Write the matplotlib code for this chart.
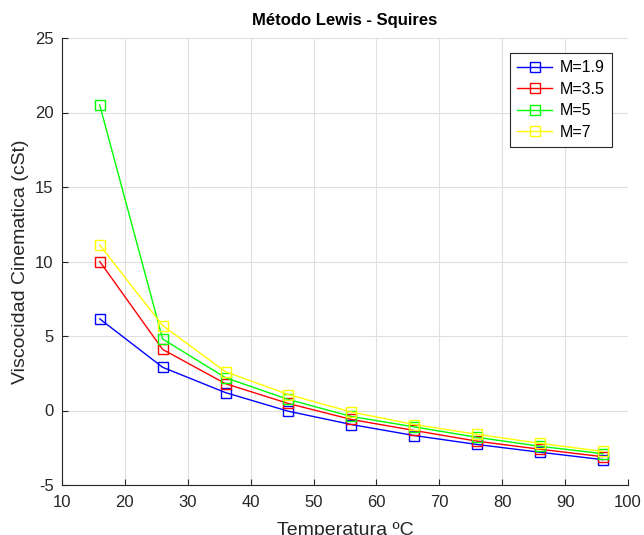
import numpy as np
import matplotlib
matplotlib.use("Agg")
from matplotlib import pyplot as plt

plt.rcParams['font.family'] = ['Liberation Sans', 'DejaVu Sans']
plt.rcParams['axes.unicode_minus'] = False

# temperaturas (ºC)
temp = [16, 26, 36, 46, 56, 66, 76, 86, 96]

# viscosidad para cada M
m19 = [6.15, 2.9, 1.2, -0.05, -0.94, -1.68, -2.28, -2.8, -3.3]
m35 = [10.0, 4.1, 1.8, 0.47, -0.6, -1.34, -2.06, -2.6, -3.1]
m5 = [20.5, 4.8, 2.2, 0.74, -0.4, -1.1, -1.8, -2.4, -2.9]
m7 = [11.1, 5.7, 2.6, 1.07, -0.1, -0.94, -1.6, -2.2, -2.75]

series = [("M=1.9", m19, "#0000ff"),
          ("M=3.5", m35, "#ff0000"),
          ("M=5", m5, "#00ff00"),
          ("M=7", m7, "#ffff00")]

fig = plt.figure(figsize=(6.44, 5.35), dpi=100)
ax = fig.add_axes([62/644, 1 - 485/535, (628-62)/644, (485-38)/535])

for lab, vals, col in series:
    ax.plot(temp, vals, '-s', color=col, label=lab, lw=1, ms=6.5,
            mfc='none', mew=1)

ax.set_xlim(10, 100)
ax.set_ylim(-5, 25)
ax.set_xticks(np.arange(10, 101, 10))
ax.set_yticks(np.arange(-5, 26, 5))
ax.grid(True, color='#e0e0e0', lw=0.8)
ax.set_axisbelow(True)
ax.tick_params(direction='in', labelsize=12, top=False, right=False, length=4,
               color='#262626', labelcolor='#262626')
ax.tick_params(axis='x', pad=7)
ax.tick_params(axis='y', pad=6)
for s in ax.spines.values():
    s.set_color('#262626')
    s.set_linewidth(0.8)
ax.spines['top'].set_visible(False)
ax.spines['right'].set_visible(False)

ax.set_title("Método Lewis - Squires", fontsize=12, fontweight='bold', pad=9)
ax.set_xlabel("Temperatura ºC", fontsize=14, color='#262626', labelpad=9)
ax.set_ylabel("Viscocidad Cinematica (cSt)", fontsize=14, color='#262626', labelpad=4)

leg = ax.legend(loc='upper right', bbox_to_anchor=(0.972, 0.966), borderaxespad=0,
                fontsize=11.5, fancybox=False, framealpha=1, edgecolor='#262626',
                handlelength=2.2, handletextpad=0.5, borderpad=0.45, labelspacing=0.4)
leg.get_frame().set_linewidth(0.8)

fig.savefig("out.png", dpi=100)
